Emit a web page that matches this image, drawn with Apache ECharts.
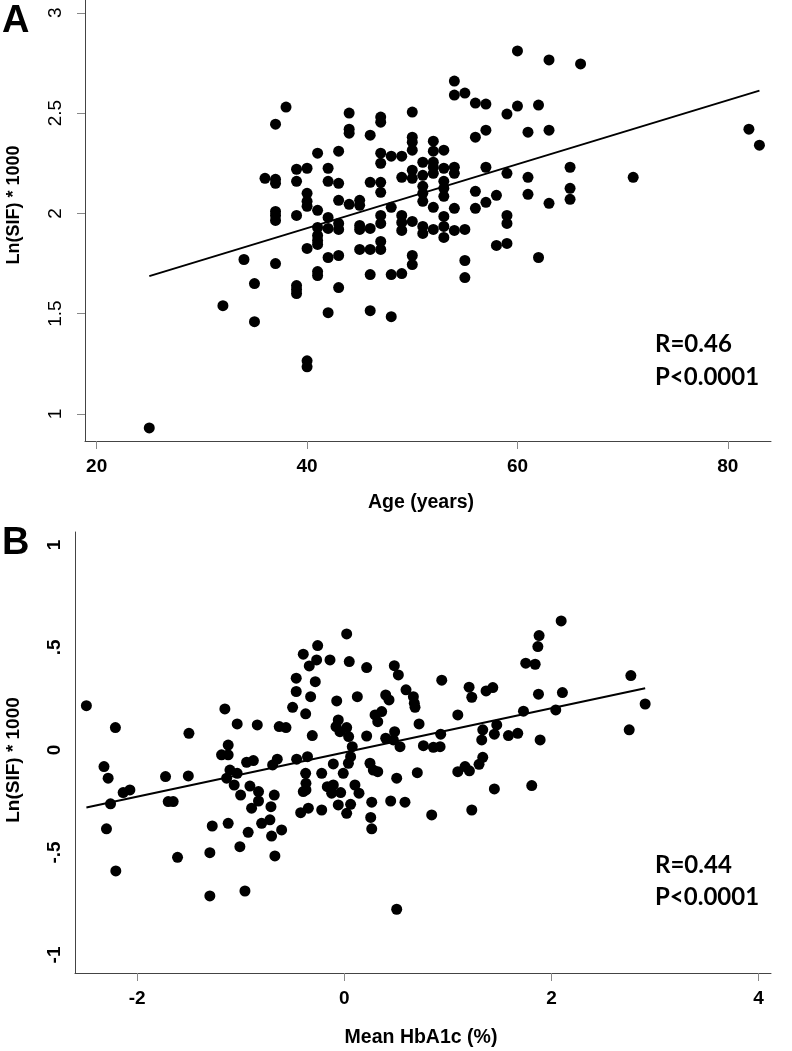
<!DOCTYPE html>
<html><head><meta charset="utf-8">
<script src="https://cdn.jsdelivr.net/npm/echarts@6/dist/echarts.min.js"></script>
<style>html,body{margin:0;padding:0;background:#fff}#c{width:792px;height:1051px}</style>
</head><body><div id="c"></div>
<script>
// Panel A: Age (years) vs Ln(SIF)*1000
const agePoints = [
 [25,0.93],[32,1.54],[34,1.77],[35,1.65],[35,1.46],[36,2.175],
 [37,2.445],[37,2.17],[37,2.15],[37,2.01],[37,1.99],[37,1.965],[37,1.75],
 [38,2.53],
 [39,2.22],[39,2.16],[39,1.99],[39,1.64],[39,1.62],[39,1.60],
 [40,2.225],[40,2.10],[40,2.06],[40,2.035],[40,1.825],[40,1.265],[40,1.235],
 [41,2.30],[41,2.015],[41,1.93],[41,1.89],[41,1.865],[41,1.845],[41,1.71],[41,1.69],
 [42,2.225],[42,2.16],[42,1.98],[42,1.925],[42,1.78],[42,1.505],
 [43,2.31],[43,2.15],[43,2.065],[43,1.95],[43,1.92],[43,1.79],[43,1.63],
 [44,2.50],[44,2.42],[44,2.40],[44,2.045],
 [45,2.065],[45,2.04],[45,1.94],[45,1.92],[45,1.82],
 [46,2.39],[46,2.155],[46,1.925],[46,1.82],[46,1.695],[46,1.515],
 [47,2.48],[47,2.455],[47,2.30],[47,2.25],[47,2.155],[47,2.105],[47,1.99],[47,1.95],[47,1.86],[47,1.82],
 [48,2.285],[48,2.03],[48,1.695],[48,1.485],
 [49,2.285],[49,2.18],[49,1.99],[49,1.955],[49,1.915],[49,1.70],
 [50,2.505],[50,2.38],[50,2.355],[50,2.315],[50,2.215],[50,2.175],[50,1.96],[50,1.79],[50,1.745],
 [51,2.255],[51,2.19],[51,2.135],[51,2.10],[51,2.06],[51,1.935],[51,1.90],
 [52,2.36],[52,2.31],[52,2.255],[52,2.23],[52,2.20],[52,2.03],[52,1.92],
 [53,2.315],[53,2.225],[53,2.16],[53,2.125],[53,2.085],[53,1.985],[53,1.935],[53,1.88],
 [54,2.66],[54,2.59],[54,2.23],[54,2.20],[54,2.025],[54,1.915],
 [55,2.60],[55,1.92],[55,1.765],[55,1.68],
 [56,2.55],[56,2.38],[56,2.11],[56,2.025],
 [57,2.545],[57,2.415],[57,2.23],[57,2.055],
 [58,2.09],[58,1.84],
 [59,2.495],[59,2.20],[59,1.99],[59,1.95],[59,1.85],
 [60,2.81],[60,2.535],
 [61,2.405],[61,2.18],[61,2.095],
 [62,2.54],[62,1.78],
 [63,2.765],[63,2.415],[63,2.05],
 [65,2.23],[65,2.125],[65,2.07],
 [66,2.745],[71,2.18],[82,2.42],[83,2.34]
];
const fitAge = [[25,1.687],[83,2.612]];
const ageTicks = [20,40,60,80];
const sifTicksA = [1,1.5,2,2.5,3];

// Panel B: Mean HbA1c (%) vs Ln(SIF)*1000
const hbPoints = [
 [-2.49,0.216],[-2.21,0.109],[-2.32,-0.081],[-2.28,-0.138],[-2.135,-0.208],[-2.07,-0.195],
 [-2.257,-0.263],[-2.296,-0.385],[-2.206,-0.59],[-1.726,-0.13],[-1.70,-0.252],[-1.652,-0.252],
 [-1.61,-0.524],[-1.506,-0.127],[-1.50,0.081],[-1.275,-0.371],[-1.298,-0.501],[-1.298,-0.712],
 [-1.153,0.20],[-1.185,-0.024],[-1.121,-0.024],[-1.121,0.024],[-1.034,0.127],[-1.104,-0.098],
 [-1.034,-0.114],[-1.136,-0.138],[-1.121,-0.358],[-1.063,-0.171],[-1.001,-0.22],[-0.943,-0.06],
 [-0.878,-0.052],[-0.911,-0.176],[-0.828,-0.203],[-0.828,-0.249],[-0.895,-0.284],[-0.928,-0.402],
 [-1.008,-0.472],[-0.959,-0.688],[-0.84,0.122],[-0.798,-0.358],[-0.718,-0.341],[-0.676,-0.22],
 [-0.708,-0.277],[-0.702,-0.42],[-0.605,-0.39],[-0.67,-0.517],[-0.647,-0.045],[-0.692,-0.073],
 [-0.628,0.114],[-0.563,0.109],[-0.499,0.208],[-0.464,0.285],[-0.464,0.35],[-0.46,-0.045],
 [-0.396,0.467],[-0.338,0.41],[-0.257,0.509],[-0.267,0.439],[-0.138,0.439],[-0.325,0.26],
 [-0.28,0.333],[-0.373,0.176],[-0.355,-0.033],[-0.309,0.07],[-0.373,-0.114],[-0.37,-0.163],
 [-0.37,-0.195],[-0.396,-0.203],[-0.347,-0.284],[-0.421,-0.306],[-0.218,-0.114],[-0.218,-0.293],
 [-0.164,-0.179],[-0.106,-0.171],[-0.122,-0.211],[-0.106,-0.068],[-0.073,0.239],[-0.058,0.146],
 [-0.08,0.114],[-0.042,0.089],[0.023,0.109],[0.042,0.065],[0.023,0.566],[0.048,0.431],
 [0.077,0.016],[0.061,-0.033],[0.04,-0.065],[-0.01,-0.114],[-0.035,-0.208],[-0.058,-0.268],
 [0.023,-0.309],[0.061,-0.265],[0.103,-0.171],[0.142,-0.211],[0.126,0.26],[0.216,0.402],
 [0.216,0.068],[0.297,0.171],[0.361,0.187],[0.323,0.138],[0.40,0.268],[0.432,0.244],
 [0.40,0.057],[0.486,0.089],[0.538,0.016],[0.483,0.411],[0.522,0.366],[0.248,-0.065],
 [0.323,-0.106],[0.28,-0.098],[0.265,-0.255],[0.255,-0.329],[0.265,-0.385],[0.448,-0.249],
 [0.506,-0.138],[0.506,-0.777],[0.586,-0.255],[0.474,0.049],[0.596,0.293],[0.667,0.26],
 [0.676,0.228],[0.683,0.208],[0.722,0.127],[0.764,0.021],[0.86,0.013],[0.925,0.016],
 [0.931,0.077],[0.941,0.34],[1.096,0.171],[1.205,0.306],[1.231,0.257],[1.369,0.288],
 [1.434,0.304],[1.337,0.098],[1.327,0.049],[1.472,0.122],[1.449,0.077],[1.585,0.07],
 [1.675,0.081],[1.73,0.189],[1.752,0.423],[1.843,0.418],[1.881,0.558],[1.869,0.504],
 [1.875,0.272],[1.891,0.049],[2.042,0.195],[2.094,0.629],[2.106,0.28],[2.767,0.363],
 [2.905,0.224],[2.751,0.098],[1.337,-0.036],[1.301,-0.07],[1.096,-0.106],[1.166,-0.081],
 [1.208,-0.102],[0.705,-0.111],[0.844,-0.317],[1.231,-0.293],[1.449,-0.19],[1.81,-0.174]
];
const fitHb = [[-2.49,-0.281],[2.905,0.301]];
const hbTicks = [-2,0,2,4];
const sifTicksB = [-1,-0.5,0,0.5,1];
const sifLabelsB = ['-1','-.5','0','.5','1'];

const FONT = 'Liberation Sans, Arial, sans-serif';
const chart = echarts.init(document.getElementById('c'), null, {renderer:'canvas'});

function xAxisCfg(grid, min, max, ticks){
  return {gridIndex:grid, type:'value', min:min, max:max,
    axisLine:{show:true, onZero:false, lineStyle:{color:'#444', width:1}},
    axisTick:{show:true, customValues:ticks, length:8, lineStyle:{color:'#888', width:1}},
    axisLabel:{customValues:ticks, fontFamily:FONT, fontWeight:'bold', fontSize:19, color:'#000', margin:16},
    splitLine:{show:false}};
}
function yAxisCfg(grid, min, max, ticks, showTick, fmt, bold, margin){
  return {gridIndex:grid, type:'value', min:min, max:max,
    axisLine:{show:true, onZero:false, lineStyle:{color:'#444', width:1}},
    axisTick:{show:showTick, customValues:ticks, length:8, lineStyle:{color:'#888', width:1}},
    axisLabel:{customValues:ticks, rotate:90, fontFamily:FONT, fontWeight:bold?'bold':'normal', fontSize:19, color:'#000', margin:margin, formatter:fmt},
    splitLine:{show:false}};
}

chart.setOption({
  animation:false,
  backgroundColor:'#fff',
  grid:[{left:85, top:0, width:686, height:441}, {left:75, top:532, width:696, height:441}],
  xAxis:[xAxisCfg(0, 18.89, 84.1, ageTicks), xAxisCfg(1, -2.60, 4.12, hbTicks)],
  yAxis:[
    yAxisCfg(0, 0.865, 3.064, sifTicksA, true, v => String(v), false, 20),
    yAxisCfg(1, -1.088, 1.063, sifTicksB, false, v => sifLabelsB[sifTicksB.indexOf(v)] ?? String(v), true, 11)
  ],
  series:[
    {type:'scatter', xAxisIndex:0, yAxisIndex:0, data:agePoints, symbol:'circle', symbolSize:11, itemStyle:{color:'#000', opacity:1}},
    {type:'line', xAxisIndex:0, yAxisIndex:0, data:fitAge, symbol:'none', lineStyle:{color:'#000', width:2}},
    {type:'scatter', xAxisIndex:1, yAxisIndex:1, data:hbPoints, symbol:'circle', symbolSize:11, itemStyle:{color:'#000', opacity:1}},
    {type:'line', xAxisIndex:1, yAxisIndex:1, data:fitHb, symbol:'none', lineStyle:{color:'#000', width:2}}
  ],
  graphic:[
    {type:'text', x:2, y:3, style:{text:'A', font:'bold 38px '+FONT, fill:'#000'}},
    {type:'text', x:2, y:525, style:{text:'B', font:'bold 38px '+FONT, fill:'#000'}},
    {type:'text', x:14, y:205, rotation:Math.PI/2, style:{text:'Ln(SIF) * 1000', font:'bold 18px '+FONT, fill:'#000', align:'center', verticalAlign:'middle'}},
    {type:'text', x:14, y:760, rotation:Math.PI/2, style:{text:'Ln(SIF) * 1000', font:'bold 19px '+FONT, fill:'#000', align:'center', verticalAlign:'middle'}},
    {type:'text', x:421, y:503, style:{text:'Age (years)', font:'bold 19.5px '+FONT, fill:'#000', align:'center', verticalAlign:'middle'}},
    {type:'text', x:421, y:1038, style:{text:'Mean HbA1c (%)', font:'bold 19.5px '+FONT, fill:'#000', align:'center', verticalAlign:'middle'}},
    {type:'text', x:655, y:344, style:{text:'R=0.46', font:'bold 24px Lato, sans-serif', fill:'#000', verticalAlign:'middle'}},
    {type:'text', x:655, y:377, style:{text:'P<0.0001', font:'bold 24px Lato, sans-serif', fill:'#000', verticalAlign:'middle'}},
    {type:'text', x:655, y:865, style:{text:'R=0.44', font:'bold 24px Lato, sans-serif', fill:'#000', verticalAlign:'middle'}},
    {type:'text', x:655, y:897, style:{text:'P<0.0001', font:'bold 24px Lato, sans-serif', fill:'#000', verticalAlign:'middle'}}
  ]
});
</script></body></html>
